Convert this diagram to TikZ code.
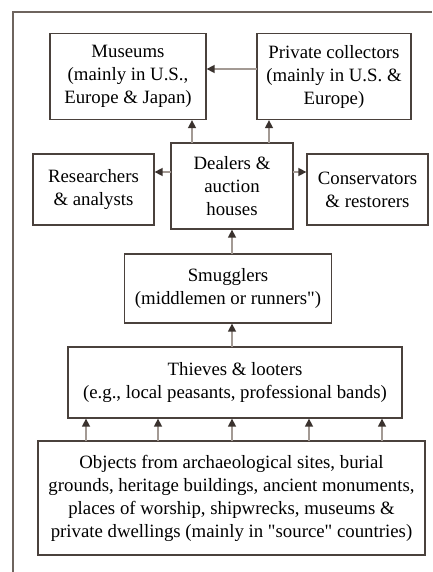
\documentclass[tikz,border=0pt]{standalone}
\usepackage{fontspec}
\setmainfont{Liberation Serif}
\usetikzlibrary{arrows.meta}
\definecolor{boxline}{HTML}{4A413C}
\definecolor{shaft}{HTML}{A39A94}
\definecolor{headc}{HTML}{3A322E}
\definecolor{frame}{HTML}{6E645E}
\begin{document}
\begin{tikzpicture}[x=1pt,y=-1pt,
  box/.style={draw=boxline,line width=1.3pt,inner sep=0pt,align=center,
    font=\fontsize{18.8}{23}\selectfont,text=black},
  arr/.style={draw=shaft,line width=1.5pt,
    -{Triangle[length=8pt,width=8pt,color=headc,fill=headc]}}]
\useasboundingbox (0,0) rectangle (432,572);
\draw[frame,line width=1.2pt] (13,572) -- (13,12) -- (432,12);
\node[box,minimum width=156pt,minimum height=86pt] (mus) at (128,76.5)
  {Museums\\(mainly in U.S.,\\Europe \& Japan)};
\node[box,minimum width=154pt,minimum height=86pt] (priv) at (334,76.5)
  {Private collectors\\(mainly in U.S. \&\\Europe)};
\node[box,minimum width=121pt,minimum height=71pt] (res) at (93.5,189.5)
  {Researchers\\\& analysts};
\node[box,minimum width=122pt,minimum height=86pt] (deal) at (232,186)
  {Dealers \&\\auction\\houses};
\node[box,minimum width=121pt,minimum height=71pt] (cons) at (367.5,189.5)
  {Conservators\\\& restorers};
\node[box,minimum width=207pt,minimum height=69pt] (smug) at (228,288.5)
  {Smugglers\\(middlemen or runners\textquotedbl)};
\node[box,minimum width=334pt,minimum height=71pt] (thief) at (235,382.5)
  {Thieves \& looters\\(e.g., local peasants, professional bands)};
\node[box,minimum width=387pt,minimum height=114pt] (obj) at (231.5,498)
  {Objects from archaeological sites, burial\\grounds, heritage buildings, ancient monuments,\\places of worship, shipwrecks, museums \&\\private dwellings (mainly in \textquotedbl source\textquotedbl\ countries)};
% connectors
\coordinate (pm) at (257,69);
\draw[arr] (pm) -- (pm -| mus.east);
\coordinate (dm) at (192,143);
\draw[arr] (dm) -- (dm |- mus.south);
\coordinate (dp) at (269,143);
\draw[arr] (dp) -- (dp |- priv.south);
\coordinate (dr) at (171,172);
\draw[arr] (dr) -- (dr -| res.east);
\coordinate (dc) at (293,172);
\draw[arr] (dc) -- (dc -| cons.west);
\coordinate (sd) at (232,254);
\draw[arr] (sd) -- (sd |- deal.south);
\coordinate (ts) at (232,347);
\draw[arr] (ts) -- (ts |- smug.south);
\foreach \i/\xx in {1/86,2/158,3/232,4/309,5/382}{
  \coordinate (o\i) at (\xx,441);
  \draw[arr] (o\i) -- (o\i |- thief.south);
}
\end{tikzpicture}
\end{document}
